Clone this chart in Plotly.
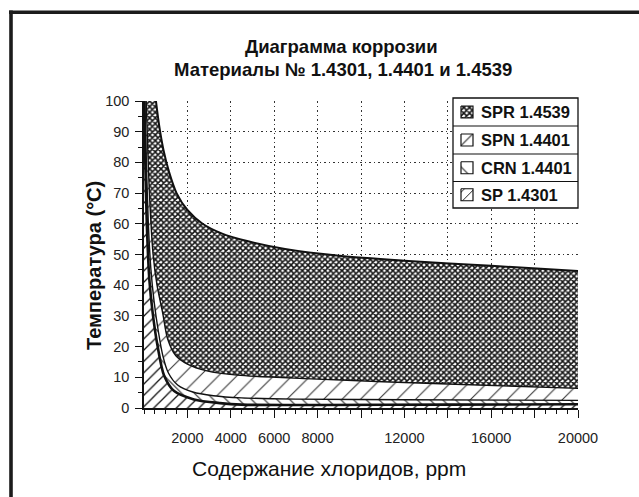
import plotly.graph_objects as go

# ---- data: temperature limits (°C) versus chloride content (ppm) ----
ppm_sp = [15, 60, 130, 245, 400, 630, 930, 1390, 2300, 3500, 4500, 8000, 14000, 20000]
temp_sp = [100, 80, 60, 42, 31, 20, 10.5, 5.5, 2.8, 1.6, 1.1, 1.0, 1.1, 1.2]

ppm_crn = [35, 110, 200, 320, 460, 660, 870, 1120, 1550, 2250, 3200, 4500, 7000, 12000, 20000]
temp_crn = [100, 80, 60, 45, 35, 25, 17, 11.5, 7.5, 5.2, 4.0, 3.3, 2.9, 2.7, 2.5]

ppm_spn = [100, 170, 250, 420, 600, 860, 1090, 1470, 2000, 2900, 4300, 7700, 14000, 20000]
temp_spn = [100, 85, 70, 50, 40, 31, 22.5, 17, 14.3, 12.1, 10.7, 9.5, 7.8, 6.4]

ppm_spr = [550, 700, 900, 1150, 1500, 2000, 2700, 3600, 4800, 6500, 9000, 12000, 16000, 20000]
temp_spr = [100, 92, 84, 77, 70, 64.5, 60, 56.8, 54.3, 51.8, 49.6, 48, 46.3, 44.6]

# lower-left corner of the chart (y axis + x axis)
ppm_base = [0, 0, 20000]
temp_base = [100, 0, 0]

x_tickvals = [2000, 4000, 6000, 8000, 10000, 12000, 14000, 16000, 18000, 20000]
x_ticktext = ["2000", "4000", "6000", "8000", "", "12000", "", "16000", "", "20000"]
y_tickvals = [0, 10, 20, 30, 40, 50, 60, 70, 80, 90, 100]

legend_names = ["SPR 1.4539", "SPN 1.4401", "CRN 1.4401", "SP 1.4301"]

# ---- page geometry (pixels) ----
W, H = 639, 497
AX_L, AX_R, AX_T, AX_B = 144, 578, 101, 408
FONT = "Liberation Sans, Arial, sans-serif"


def fx(p):
    return p / W


def fy(p):
    return 1 - p / H


pat_sp = dict(shape="/", size=8, solidity=0.16, fgcolor="#111", bgcolor="white", fillmode="replace")
pat_crn = dict(shape="\\", size=9, solidity=0.12, fgcolor="#222", bgcolor="white", fillmode="replace")
pat_spn = dict(shape="/", size=13, solidity=0.08, fgcolor="#333", bgcolor="white", fillmode="replace")
pat_spr = dict(shape="x", size=4, solidity=0.62, fgcolor="#151515", bgcolor="white", fillmode="replace")

fig = go.Figure()

fills = [
    (ppm_base, temp_base, None),
    (ppm_sp, temp_sp, pat_sp),
    (ppm_crn, temp_crn, pat_crn),
    (ppm_spn, temp_spn, pat_spn),
    (ppm_spr, temp_spr, pat_spr),
]
for xs, ys, pat in fills:
    tr = dict(x=xs, y=ys, mode="lines", line=dict(width=0, shape="spline", smoothing=0.8),
              showlegend=False, hoverinfo="skip")
    if pat is not None:
        tr.update(fill="tonexty", fillpattern=pat, fillcolor="white")
    fig.add_trace(go.Scatter(**tr))

# boundary curves on top of the fills
for xs, ys, w in [(ppm_sp, temp_sp, 2.6), (ppm_crn, temp_crn, 1.4),
                  (ppm_spn, temp_spn, 1.4), (ppm_spr, temp_spr, 2.0)]:
    fig.add_trace(go.Scatter(x=xs, y=ys, mode="lines",
                             line=dict(color="#111", width=w, shape="spline", smoothing=0.8),
                             showlegend=False, hoverinfo="skip"))

# ---- legend box drawn on a full-page pixel overlay ----
LG_L, LG_R = 453, 578
row_edges = [98, 126, 154, 181.5, 208]
sw_l, sw_r = 461, 473
swatch_pats = [pat_spr,
               dict(shape="/", size=13, solidity=0.08, fgcolor="#222", bgcolor="white", fillmode="replace"),
               dict(shape="\\", size=13, solidity=0.08, fgcolor="#222", bgcolor="white", fillmode="replace"),
               dict(shape="/", size=7, solidity=0.14, fgcolor="#222", bgcolor="white", fillmode="replace")]

shapes = []
annotations = []
shapes.append(dict(type="rect", xref="x2", yref="y2", x0=LG_L, x1=LG_R, y0=row_edges[0], y1=row_edges[-1],
                   fillcolor="white", line=dict(width=0), layer="between"))
for i, name in enumerate(legend_names):
    top, bot = row_edges[i], row_edges[i + 1]
    cy = (top + bot) / 2
    sx = [sw_l, sw_r, sw_r, sw_l, sw_l]
    sy = [cy - 6, cy - 6, cy + 6, cy + 6, cy - 6]
    fig.add_trace(go.Scatter(x=sx, y=sy, xaxis="x2", yaxis="y2", mode="lines", fill="toself",
                             fillcolor="white", fillpattern=swatch_pats[i],
                             line=dict(color="#111", width=1.2), showlegend=False, hoverinfo="skip"))
    annotations.append(dict(x=fx(479), y=fy(cy), xref="paper", yref="paper", text=f"<b>{name}</b>",
                            showarrow=False, xanchor="left", yanchor="middle",
                            font=dict(family=FONT, size=16.5, color="#111")))
shapes.append(dict(type="rect", xref="x2", yref="y2", x0=LG_L, x1=LG_R, y0=row_edges[0], y1=row_edges[-1],
                   line=dict(color="#111", width=1.3), layer="above"))
for e in row_edges[1:-1]:
    shapes.append(dict(type="line", xref="x2", yref="y2", x0=LG_L, x1=LG_R, y0=e, y1=e,
                       line=dict(color="#111", width=1.2), layer="above"))

# page frame (top and left edges)
shapes.append(dict(type="line", xref="paper", yref="paper", x0=fx(9), x1=1, y0=fy(12.3), y1=fy(12.3),
                   line=dict(color="#1c1c1c", width=3.6)))
shapes.append(dict(type="line", xref="paper", yref="paper", x0=fx(11), x1=fx(11), y0=fy(10.5), y1=0,
                   line=dict(color="#1c1c1c", width=3.6)))

# titles
annotations += [
    dict(x=fx(341), y=fy(47), xref="paper", yref="paper", text="<b>Диаграмма коррозии</b>",
         showarrow=False, xanchor="center", yanchor="middle", font=dict(family=FONT, size=18.5, color="#111")),
    dict(x=fx(343), y=fy(69), xref="paper", yref="paper", text="<b>Материалы № 1.4301, 1.4401 и 1.4539</b>",
         showarrow=False, xanchor="center", yanchor="middle", font=dict(family=FONT, size=18.5, color="#111")),
    dict(x=fx(94), y=fy(266), xref="paper", yref="paper", text="<b>Температура (°C)</b>", textangle=-90,
         showarrow=False, xanchor="center", yanchor="middle", font=dict(family=FONT, size=20, color="#111")),
    dict(x=fx(329), y=fy(468), xref="paper", yref="paper", text="Содержание хлоридов, ppm",
         showarrow=False, xanchor="center", yanchor="middle", font=dict(family=FONT, size=21, color="#111")),
]

tick_font = dict(family=FONT, size=14.5, color="#222")
fig.update_layout(
    width=W, height=H, autosize=False,
    margin=dict(l=0, r=0, t=0, b=0, pad=0, autoexpand=False),
    paper_bgcolor="white", plot_bgcolor="rgba(0,0,0,0)",
    showlegend=False,
    xaxis=dict(domain=[fx(AX_L), fx(AX_R)], range=[0, 20000], tickmode="array", automargin=False,
               tickvals=x_tickvals, ticktext=x_ticktext, ticks="outside", ticklen=8, tickwidth=1.2,
               tickcolor="#111", showline=True, linecolor="#111", linewidth=1.5,
               showgrid=True, gridcolor="#333", gridwidth=1, griddash="1.5px,3px", zeroline=False,
               minor=dict(dtick=500, tick0=0, ticks="outside", ticklen=4, tickcolor="#111", showgrid=False),
               tickfont=tick_font, ticklabelstandoff=8, fixedrange=True),
    yaxis=dict(domain=[fy(AX_B), fy(AX_T)], range=[0, 100], tickmode="array", tickvals=y_tickvals,
               automargin=False, ticks="outside", ticklen=7, tickwidth=1.2, tickcolor="#111",
               showline=True, linecolor="#111", linewidth=1.5,
               showgrid=True, gridcolor="#333", gridwidth=1, griddash="1.5px,3px", zeroline=False,
               minor=dict(dtick=5, tick0=0, ticks="outside", ticklen=4, tickcolor="#111", showgrid=False),
               tickfont=tick_font, ticklabelstandoff=3, fixedrange=True),
    xaxis2=dict(domain=[0, 1], range=[0, W], anchor="y2", visible=False, fixedrange=True, automargin=False),
    yaxis2=dict(domain=[0, 1], range=[H, 0], anchor="x2", visible=False, fixedrange=True, automargin=False),
    shapes=shapes,
    annotations=annotations,
)

fig.write_html("out.html")
